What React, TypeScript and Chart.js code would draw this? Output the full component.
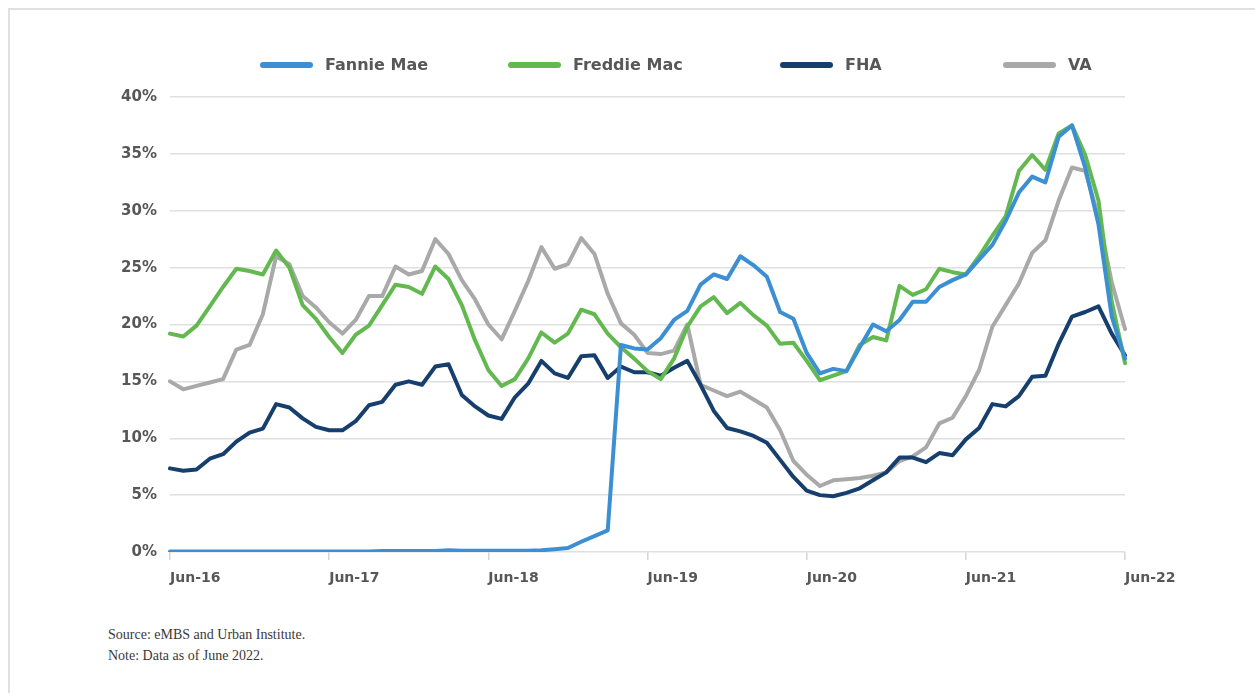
import React, { useEffect, useRef } from 'react';
import { Chart, registerables } from 'chart.js';

Chart.register(...registerables);

const MONTHS = [
  'Jun-16', 'Jul-16', 'Aug-16', 'Sep-16', 'Oct-16', 'Nov-16', 'Dec-16',
  'Jan-17', 'Feb-17', 'Mar-17', 'Apr-17', 'May-17', 'Jun-17', 'Jul-17', 'Aug-17', 'Sep-17', 'Oct-17', 'Nov-17', 'Dec-17',
  'Jan-18', 'Feb-18', 'Mar-18', 'Apr-18', 'May-18', 'Jun-18', 'Jul-18', 'Aug-18', 'Sep-18', 'Oct-18', 'Nov-18', 'Dec-18',
  'Jan-19', 'Feb-19', 'Mar-19', 'Apr-19', 'May-19', 'Jun-19', 'Jul-19', 'Aug-19', 'Sep-19', 'Oct-19', 'Nov-19', 'Dec-19',
  'Jan-20', 'Feb-20', 'Mar-20', 'Apr-20', 'May-20', 'Jun-20', 'Jul-20', 'Aug-20', 'Sep-20', 'Oct-20', 'Nov-20', 'Dec-20',
  'Jan-21', 'Feb-21', 'Mar-21', 'Apr-21', 'May-21', 'Jun-21', 'Jul-21', 'Aug-21', 'Sep-21', 'Oct-21', 'Nov-21', 'Dec-21',
  'Jan-22', 'Feb-22', 'Mar-22', 'Apr-22', 'May-22', 'Jun-22',
];

const TICK_LABELS = ['Jun-16', 'Jun-17', 'Jun-18', 'Jun-19', 'Jun-20', 'Jun-21', 'Jun-22'];

const SERIES_NAMES = ['Fannie Mae', 'Freddie Mac', 'FHA', 'VA'];
const SERIES_COLORS = ['#3b8fd2', '#63b94f', '#173f6e', '#a9a9a9'];

const FANNIE_MAE = [
  0.05, 0.05, 0.05, 0.05, 0.05, 0.05, 0.05, 0.05, 0.05, 0.05, 0.05, 0.05,
  0.05, 0.05, 0.05, 0.05, 0.08, 0.08, 0.08, 0.08, 0.08, 0.15, 0.1, 0.1,
  0.1, 0.1, 0.1, 0.1, 0.15, 0.25, 0.35, 0.9, 1.4, 1.9, 18.2, 17.9,
  17.8, 18.8, 20.4, 21.2, 23.5, 24.4, 24.0, 26.0, 25.2, 24.2, 21.1, 20.5,
  17.5, 15.7, 16.1, 15.9, 18.0, 20.0, 19.4, 20.4, 22.0, 22.0, 23.3, 23.9,
  24.4, 25.7, 27.0, 29.1, 31.6, 33.0, 32.5, 36.5, 37.5, 33.8, 28.8, 20.7,
  17.0,
];

const FREDDIE_MAC = [
  19.2, 18.95, 19.9, 21.6, 23.3, 24.9, 24.7, 24.4, 26.5, 25.0, 21.7, 20.5,
  18.9, 17.5, 19.1, 19.9, 21.7, 23.5, 23.3, 22.7, 25.1, 24.0, 21.7, 18.6,
  16.0, 14.6, 15.2, 17.0, 19.3, 18.4, 19.2, 21.3, 20.9, 19.2, 18.0, 17.0,
  15.9, 15.2, 17.0, 19.8, 21.6, 22.4, 21.0, 21.9, 20.8, 19.9, 18.3, 18.4,
  16.8, 15.1, 15.5, 15.9, 18.2, 18.9, 18.6, 23.4, 22.6, 23.1, 24.9, 24.6,
  24.4, 26.0, 27.8, 29.5, 33.5, 34.9, 33.6, 36.8, 37.5, 34.9, 30.9, 22.0,
  16.6,
];

const FHA = [
  7.35, 7.15, 7.25, 8.2, 8.6, 9.7, 10.5, 10.85, 13.0, 12.7, 11.75, 11.0,
  10.7, 10.7, 11.5, 12.9, 13.2, 14.7, 15.0, 14.7, 16.3, 16.5, 13.8, 12.8,
  12.0, 11.7, 13.6, 14.8, 16.8, 15.7, 15.3, 17.2, 17.3, 15.3, 16.3, 15.8,
  15.8, 15.5, 16.2, 16.8, 14.7, 12.4, 10.9, 10.6, 10.2, 9.6, 8.1, 6.6,
  5.4, 5.0, 4.9, 5.2, 5.6, 6.3, 7.0, 8.3, 8.3, 7.9, 8.7, 8.5,
  9.9, 10.9, 13.0, 12.8, 13.7, 15.4, 15.5, 18.3, 20.7, 21.1, 21.6, 19.2,
  17.3,
];

const VA = [
  15.0, 14.3, 14.6, 14.9, 15.2, 17.8, 18.2, 20.9, 26.0, 25.3, 22.5, 21.5,
  20.2, 19.2, 20.4, 22.5, 22.5, 25.1, 24.4, 24.7, 27.5, 26.2, 23.9, 22.2,
  20.0, 18.7, 21.2, 23.8, 26.8, 24.9, 25.3, 27.6, 26.2, 22.7, 20.1, 19.1,
  17.5, 17.4, 17.7, 20.0, 14.7, 14.2, 13.7, 14.1, 13.4, 12.7, 10.7, 8.0,
  6.8, 5.8, 6.3, 6.4, 6.5, 6.7, 7.0, 8.0, 8.4, 9.2, 11.3, 11.8,
  13.7, 16.0, 19.8, 21.7, 23.6, 26.3, 27.4, 30.9, 33.8, 33.5, 29.5, 23.7,
  19.6,
];

const SERIES_VALUES = [FANNIE_MAE, FREDDIE_MAC, FHA, VA];

const Y_MIN = 0;
const Y_MAX = 40;
const Y_STEP = 5;

const FONT_FAMILY = '"DejaVu Sans", Verdana, sans-serif';
const TEXT_COLOR = '#575757';
const GRID_COLOR = '#e0e0e0';

const LEGEND_STARTS = [252, 500, 772, 995];
const LEGEND_Y = 57;

const legendPlugin = {
  id: 'lineLegend',
  afterDraw(chart: any) {
    const ctx = chart.ctx;
    ctx.save();
    ctx.font = `bold 16px ${FONT_FAMILY}`;
    ctx.textBaseline = 'middle';
    ctx.textAlign = 'left';
    chart.data.datasets.forEach((ds: any, i: number) => {
      const x0 = LEGEND_STARTS[i];
      ctx.strokeStyle = ds.borderColor;
      ctx.lineWidth = 6;
      ctx.lineCap = 'round';
      ctx.beginPath();
      ctx.moveTo(x0 + 3, LEGEND_Y);
      ctx.lineTo(x0 + 50, LEGEND_Y);
      ctx.stroke();
      ctx.fillStyle = TEXT_COLOR;
      ctx.fillText(ds.label, x0 + 65, LEGEND_Y + 1);
    });
    ctx.restore();
  },
};

export default function App() {
  const canvasRef = useRef<HTMLCanvasElement | null>(null);

  useEffect(() => {
    const canvas = canvasRef.current;
    if (!canvas) return;
    const chart = new Chart(canvas, {
      type: 'line',
      data: {
        labels: MONTHS,
        datasets: SERIES_NAMES.map((name, i) => ({
          label: name,
          data: SERIES_VALUES[i],
          borderColor: SERIES_COLORS[i],
          backgroundColor: SERIES_COLORS[i],
          borderWidth: 4,
          borderJoinStyle: 'round' as const,
          borderCapStyle: 'round' as const,
          pointRadius: 0,
          pointHoverRadius: 0,
          tension: 0,
          fill: false,
        })),
      },
      options: {
        responsive: false,
        animation: false,
        devicePixelRatio: 1,
        layout: { padding: { top: 89, right: 130, bottom: 16, left: 0 } },
        plugins: {
          legend: { display: false },
          tooltip: { enabled: false },
          title: { display: false },
        },
        scales: {
          x: {
            type: 'category',
            border: { display: false },
            grid: {
              drawOnChartArea: false,
              drawTicks: true,
              tickLength: 8,
              lineWidth: 1.5,
              color: (c: any) => (TICK_LABELS.includes(MONTHS[c.index]) ? '#d6d6d6' : 'rgba(0,0,0,0)'),
            },
            ticks: {
              autoSkip: false,
              maxRotation: 0,
              minRotation: 0,
              align: 'start',
              padding: 10,
              color: TEXT_COLOR,
              font: { family: FONT_FAMILY, size: 14, weight: 'bold' },
              callback: (_v: any, i: number) => (TICK_LABELS.includes(MONTHS[i]) ? MONTHS[i] : ''),
            },
            afterFit: (s: any) => {
              s.height = 40;
              s.paddingLeft = 0;
              s.paddingRight = 0;
            },
          },
          y: {
            min: Y_MIN,
            max: Y_MAX,
            border: { display: false },
            grid: { color: GRID_COLOR, lineWidth: 1.5, drawTicks: false },
            ticks: {
              stepSize: Y_STEP,
              padding: 13,
              color: TEXT_COLOR,
              font: { family: FONT_FAMILY, size: 15, weight: 'bold' },
              callback: (v: any) => `${v}%`,
            },
            afterFit: (s: any) => {
              s.width = 162;
              s.paddingTop = 0;
              s.paddingBottom = 0;
            },
          },
        },
      },
      plugins: [legendPlugin],
    });
    return () => chart.destroy();
  }, []);

  return (
    <div
      style={{
        position: 'fixed',
        left: 8,
        top: 8,
        width: 1247,
        height: 685,
        overflow: 'hidden',
        background: '#ffffff',
      }}
    >
      <div style={{ position: 'absolute', left: 0, top: 0, width: 1247, height: 2, background: '#e0e0e0' }} />
      <div style={{ position: 'absolute', left: 0, top: 0, width: 2, height: 685, background: '#e0e0e0' }} />
      <canvas
        ref={canvasRef}
        width={1247}
        height={600}
        style={{ position: 'absolute', left: 0, top: 0, width: 1247, height: 600 }}
      />
      <div
        style={{
          position: 'absolute',
          left: 100,
          top: 616,
          fontFamily: '"Liberation Serif", "Times New Roman", serif',
          fontSize: 14,
          lineHeight: '21px',
          color: '#3a3a3a',
        }}
      >
        <div>Source: eMBS and Urban Institute.</div>
        <div>Note: Data as of June 2022.</div>
      </div>
    </div>
  );
}
